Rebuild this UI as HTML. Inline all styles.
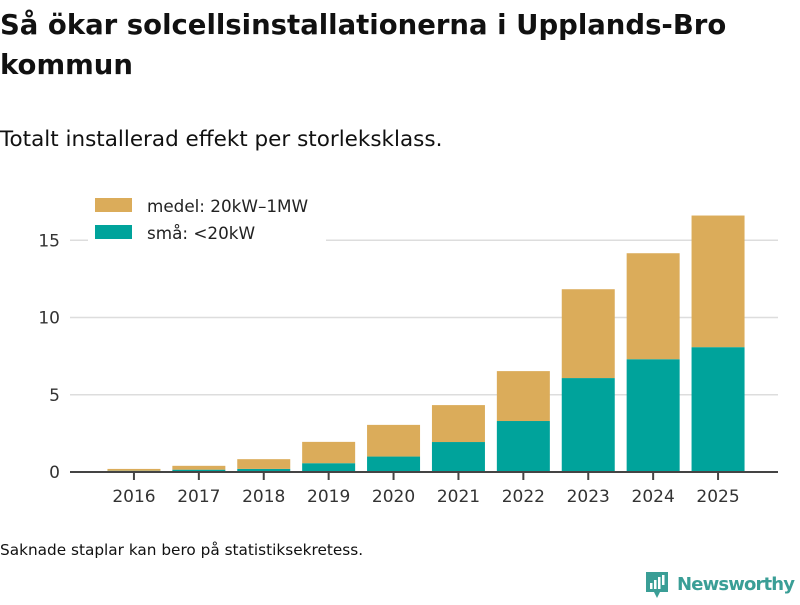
<!DOCTYPE html>
<html><head><meta charset="utf-8"><style>
body{margin:0;background:#fff;font-family:"Liberation Sans","DejaVu Sans",sans-serif;}
</style></head><body>
<svg width="800" height="600" xmlns="http://www.w3.org/2000/svg" style="font-family:'DejaVu Sans','Liberation Sans',sans-serif">
<text x="0" y="34" font-size="27.5" font-weight="bold" fill="#111">Så ökar solcellsinstallationerna i Upplands-Bro</text>
<text x="0" y="74" font-size="27.5" font-weight="bold" fill="#111">kommun</text>
<text x="0" y="146" font-size="21.5" fill="#111">Totalt installerad effekt per storleksklass.</text>
<g id="grid"></g>
<g id="bars"></g>
<g id="axes"></g>
<rect x="88" y="192" width="238" height="52" fill="#fff"/>
<rect x="95" y="198" width="37" height="14" fill="#dbac5a"/>
<text x="147" y="212" font-size="16.8" fill="#222">medel: 20kW–1MW</text>
<rect x="95" y="225" width="37" height="14" fill="#00a39b"/>
<text x="147" y="239" font-size="16.8" fill="#222">små: &lt;20kW</text>
<text x="0" y="555" font-size="15.3" fill="#111">Saknade staplar kan bero på statistiksekretess.</text>
<g>
<path d="M646 572h22v20h-8l-3 6-3-6h-8z" fill="#3a9e96"/>
<rect x="650" y="583" width="2.5" height="6" fill="#fff"/><rect x="654" y="580" width="2.5" height="9" fill="#fff"/><rect x="658" y="577" width="2.5" height="12" fill="#fff"/><rect x="662" y="575" width="2.5" height="10" fill="#fff"/>
<text x="677" y="590" font-size="18" font-weight="bold" fill="#3a9e96" textLength="118">Newsworthy</text>
</g>
</svg>
<script>
const years=["2016","2017","2018","2019","2020","2021","2022","2023","2024","2025"];
const sma=[0.08,0.15,0.2,0.57,1.0,1.94,3.3,6.08,7.3,8.08];
const medel=[0.12,0.25,0.63,1.38,2.05,2.39,3.23,5.75,6.86,8.52];
const yTicks=[0,5,10,15];
const NS="http://www.w3.org/2000/svg";
const y0=472,pxPer=15.45,x0=101.5,step=64.9,bw=53;
const yS=v=>y0-v*pxPer;
const xS=i=>x0+step*i+step/2;
function mk(t,a,p){const e=document.createElementNS(NS,t);for(const k in a)e.setAttribute(k,a[k]);p.appendChild(e);return e;}
const grid=document.getElementById('grid'),bars=document.getElementById('bars'),axes=document.getElementById('axes');
yTicks.forEach(t=>{
 if(t>0){const l=mk('line',{x1:70,x2:778,y1:yS(t),y2:yS(t),stroke:'#ddd','stroke-width':1.5},grid);
 
 }
 const tx=mk('text',{x:60,y:yS(t)+6,'font-size':17,fill:'#333','text-anchor':'end'},axes);tx.textContent=t;
 
 
});
years.forEach((yr,i)=>{
 const cx=xS(i);
 const r1=mk('rect',{x:cx-bw/2,y:yS(sma[i]),width:bw,height:sma[i]*pxPer,fill:'#00a39b'},bars);
 
 
 const r2=mk('rect',{x:cx-bw/2,y:yS(sma[i]+medel[i]),width:bw,height:medel[i]*pxPer,fill:'#dbac5a'},bars);
 
 
 const tk=mk('line',{x1:cx,x2:cx,y1:y0,y2:y0+8,stroke:'#444','stroke-width':2},axes);
 
 
 const tx=mk('text',{x:cx,y:502,'font-size':17,fill:'#333','text-anchor':'middle'},axes);tx.textContent=yr;
 
 
});
const ax=mk('line',{x1:70,x2:778,y1:y0,y2:y0,stroke:'#444','stroke-width':2},axes);


</script>
</body></html>
